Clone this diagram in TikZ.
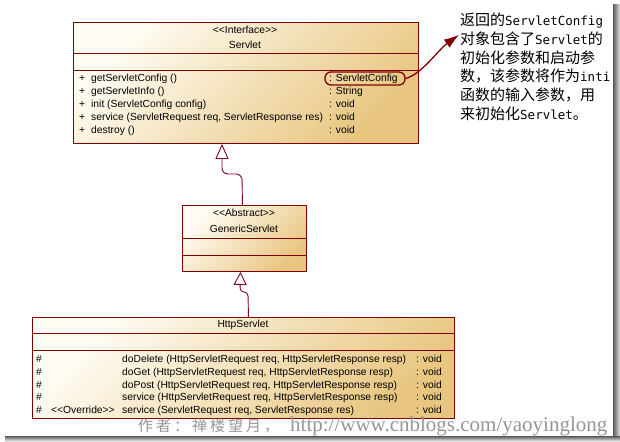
\documentclass[tikz,border=0pt]{standalone}
\usepackage{fontspec}
\setmainfont{Liberation Sans}
\newfontfamily\cjkfont{Noto Sans CJK SC}
\newfontfamily\cjkspaced{Noto Sans CJK SC}[LetterSpace=20]
\newfontfamily\monofont{DejaVu Sans Mono}
\newfontfamily\wmserif{Liberation Serif}
\usetikzlibrary{arrows.meta}
\definecolor{umlborder}{RGB}{128,0,0}
\definecolor{umlconn}{RGB}{128,0,48}
\definecolor{boxlight}{RGB}{255,252,244}
\definecolor{boxdark}{RGB}{232,198,128}
\definecolor{wmgray}{RGB}{150,150,150}
\newcommand{\latpart}[1]{{\monofont\fontsize{12.5}{15}\selectfont #1}}
\newcommand{\stereo}[1]{<\kern0pt<#1>\kern0pt>}
\begin{document}
\begin{tikzpicture}[x=1pt,y=-1pt,
  umlbox/.style={draw=umlborder, line width=0.9pt, top color=boxlight, bottom color=boxdark, shading angle=45, inner sep=0, anchor=north west},
  umlsep/.style={draw=umlborder, line width=0.9pt},
  umltxt/.style={font=\fontsize{10.3}{12}\selectfont, inner sep=0, anchor=base west},
  umlhead/.style={font=\fontsize{10.3}{12}\selectfont, inner sep=0, anchor=base},
  genline/.style={draw=umlconn, line width=0.9pt, rounded corners=6pt},
  notetxt/.style={font=\cjkfont\fontsize{15}{18}\selectfont, inner sep=0, anchor=base west},
  capsule/.style={draw=umlborder, line width=1.3pt, rounded corners=6pt, minimum width=80pt, minimum height=13pt, inner sep=0},
  notearrow/.style={draw=umlborder, line width=1.3pt, -{Latex[length=15pt,width=10pt]}}
]
\useasboundingbox (0,0) rectangle (620,441);
% shadow of the screenshot
\shade[left color=black!65, right color=black!10] (613,5) rectangle (620,437);
\shade[top color=black!65, bottom color=black!10] (5,436) rectangle (620,441);
\fill[white] (0,0) rectangle (613,436);

% ---------- Servlet ----------
\node[umlbox, minimum width=345pt, minimum height=121pt] (servlet) at (73,22) {};
\draw[umlsep] (73,53) -- (418,53);
\draw[umlsep] (73,70) -- (418,70);
\node[umlhead] (sst) at (245,33.6) {\stereo{Interface}};
\node[umlhead] (sname) at (245,48.6) {Servlet};
\node[umltxt] (sp1) at (79,81.6) {+};
\node[umltxt] (sp2) at (79,94.6) {+};
\node[umltxt] (sp3) at (79,107.6) {+};
\node[umltxt] (sp4) at (79,120.6) {+};
\node[umltxt] (sp5) at (79,133.6) {+};
\node[umltxt] (sm1) at (91,81.6) {getServletConfig ()};
\node[umltxt] (sm2) at (91,94.6) {getServletInfo ()};
\node[umltxt] (sm3) at (91,107.6) {init (ServletConfig config)};
\node[umltxt] (sm4) at (91,120.6) {service (ServletRequest req, ServletResponse res)};
\node[umltxt] (sm5) at (91,133.6) {destroy ()};
\node[umltxt] (sr1) at (329,81.6) {: ServletConfig};
\node[umltxt] (sr2) at (329,94.6) {: String};
\node[umltxt] (sr3) at (329,107.6) {: void};
\node[umltxt] (sr4) at (329,120.6) {: void};
\node[umltxt] (sr5) at (329,133.6) {: void};
\node[capsule] (cfg) at (365,78.5) {};

% ---------- GenericServlet ----------
\node[umlbox, minimum width=124pt, minimum height=66pt] (generic) at (182,205) {};
\draw[umlsep] (182,238) -- (306,238);
\draw[umlsep] (182,255) -- (306,255);
\node[umlhead] (gst) at (244,216.6) {\stereo{Abstract}};
\node[umlhead] (gname) at (244,232.6) {GenericServlet};

% ---------- HttpServlet ----------
\node[umlbox, minimum width=422pt, minimum height=101pt] (http) at (32,317) {};
\draw[umlsep] (32,333) -- (454,333);
\draw[umlsep] (32,350) -- (454,350);
\node[umlhead] (hname) at (243,327.6) {HttpServlet};
\node[umltxt] (hp1) at (36,362.6) {\#};
\node[umltxt] (hp2) at (36,375.4) {\#};
\node[umltxt] (hp3) at (36,388.1) {\#};
\node[umltxt] (hp4) at (36,400.9) {\#};
\node[umltxt] (hp5) at (36,413.6) {\#};
\node[umltxt] (hov) at (51,413.6) {\stereo{Override}};
\node[umltxt] (hm1) at (122,362.6) {doDelete (HttpServletRequest req, HttpServletResponse resp)};
\node[umltxt] (hm2) at (122,375.4) {doGet (HttpServletRequest req, HttpServletResponse resp)};
\node[umltxt] (hm3) at (122,388.1) {doPost (HttpServletRequest req, HttpServletResponse resp)};
\node[umltxt] (hm4) at (122,400.9) {service (HttpServletRequest req, HttpServletResponse resp)};
\node[umltxt] (hm5) at (122,413.6) {service (ServletRequest req, ServletResponse res)};
\node[umltxt] (hr1) at (416,362.6) {: void};
\node[umltxt] (hr2) at (416,375.4) {: void};
\node[umltxt] (hr3) at (416,388.1) {: void};
\node[umltxt] (hr4) at (416,400.9) {: void};
\node[umltxt] (hr5) at (416,413.6) {: void};

% ---------- generalizations ----------
\draw[genline, {Triangle[open, length=15pt, width=13pt]}-] ([xshift=149pt]servlet.south west) -- (222,174) -- (242,174) -- ([xshift=-2pt]generic.north);
\draw[genline, rounded corners=4pt, {Triangle[open, length=13pt, width=13pt]}-] ([xshift=-4pt]generic.south) -- (240,292) -- (248,292) -- ([xshift=5pt]http.north);

% ---------- note ----------
\node[notetxt] (note1) at (460,26) {返回的\latpart{ServletConfig}};
\node[notetxt] (note2) at (460,44.6) {对象包含了\latpart{Servlet}的};
\node[notetxt] (note3) at (460,63.2) {初始化参数和启动参};
\node[notetxt] (note4) at (460,81.8) {数，该参数将作为\latpart{inti}};
\node[notetxt] (note5) at (460,100.4) {函数的输入参数，用};
\node[notetxt] (note6) at (460,119) {来初始化\latpart{Servlet}。};
\draw[notearrow] (cfg.east) .. controls (422,74) and (438,50) .. ([xshift=-1pt,yshift=4pt]note2.west);

% ---------- watermark ----------
\node[anchor=base west, inner sep=0, text=wmgray, font=\cjkspaced\fontsize{15}{18}\selectfont] (wmcn) at (138,431) {作者：禅楼望月，};
\node[anchor=base west, inner sep=0, text=wmgray, font=\wmserif\fontsize{21}{24}\selectfont] (wmurl) at (290,431) {http://www.cnblogs.com/yaoyinglong};
\end{tikzpicture}
\end{document}
